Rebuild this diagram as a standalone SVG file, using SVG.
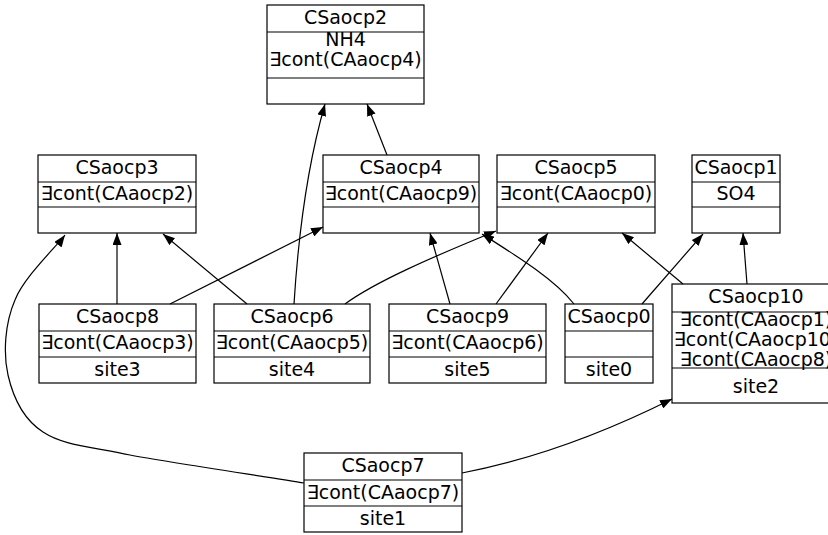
<svg xmlns="http://www.w3.org/2000/svg" width="828" height="535" viewBox="0 0 828 535">
<style>
.box{fill:none;stroke:#000;stroke-width:1.2}
.sep{stroke:#000;stroke-width:1.2}
text{font-family:"DejaVu Sans","Noto Sans",sans-serif;font-size:19px;text-anchor:middle;fill:#000}
.e{fill:none;stroke:#000;stroke-width:1.2;marker-end:url(#ah)}
</style>
<defs>
<marker id="ah" viewBox="0 0 12 9" refX="12" refY="4.5" markerWidth="12" markerHeight="9" markerUnits="userSpaceOnUse" orient="auto">
<path d="M0,0 L12,4.5 L0,9 z" fill="#000"/>
</marker>
</defs>
<rect width="828" height="535" fill="#fff"/>
<g id="connectors">
<path class="e" d="M387,155 L367,104"/>
<path class="e" d="M294,304 C298,240 306,170 325,104"/>
<path class="e" d="M117,304 L117,233"/>
<path class="e" d="M170,304 L323,227"/>
<path class="e" d="M247,304 L163,234"/>
<path class="e" d="M345,304 C375,282 430,258 496,231"/>
<path class="e" d="M450,304 L430,233"/>
<path class="e" d="M496,304 L548,233"/>
<path class="e" d="M574,304 C555,280 520,258 482,234"/>
<path class="e" d="M642,304 L703,234"/>
<path class="e" d="M683,284 L622,233"/>
<path class="e" d="M747,284 L743,233"/>
<path class="e" d="M304,483 C275,478 173,463 130,455 C86,446 63,445 43,432 C23,419 13,397 8,375 C3,353 5,323 15,300 C24,277 57,246 65,235"/>
<path class="e" d="M462,473 C540,458 610,430 672,399"/>
</g>
<g id="CSaocp2">
<rect class="box" x="267" y="5" width="157" height="99"/>
<line class="sep" x1="267" y1="32" x2="424" y2="32"/>
<line class="sep" x1="267" y1="78" x2="424" y2="78"/>
<text x="345.5" y="24">CSaocp2</text>
<text x="345.5" y="46">NH4</text>
<text x="345.5" y="66">∃cont(CAaocp4)</text>
</g>
<g id="CSaocp3">
<rect class="box" x="38" y="155" width="158" height="78"/>
<line class="sep" x1="38" y1="182" x2="196" y2="182"/>
<line class="sep" x1="38" y1="207" x2="196" y2="207"/>
<text x="117" y="174">CSaocp3</text>
<text x="117" y="200">∃cont(CAaocp2)</text>
</g>
<g id="CSaocp4">
<rect class="box" x="323" y="155" width="156" height="78"/>
<line class="sep" x1="323" y1="182" x2="479" y2="182"/>
<line class="sep" x1="323" y1="207" x2="479" y2="207"/>
<text x="401" y="174">CSaocp4</text>
<text x="401" y="200">∃cont(CAaocp9)</text>
</g>
<g id="CSaocp5">
<rect class="box" x="497" y="155" width="158" height="78"/>
<line class="sep" x1="497" y1="182" x2="655" y2="182"/>
<line class="sep" x1="497" y1="207" x2="655" y2="207"/>
<text x="576" y="174">CSaocp5</text>
<text x="576" y="200">∃cont(CAaocp0)</text>
</g>
<g id="CSaocp1">
<rect class="box" x="692" y="155" width="88" height="78"/>
<line class="sep" x1="692" y1="182" x2="780" y2="182"/>
<line class="sep" x1="692" y1="207" x2="780" y2="207"/>
<text x="736" y="174">CSaocp1</text>
<text x="736" y="200">SO4</text>
</g>
<g id="CSaocp8">
<rect class="box" x="39" y="304" width="157" height="79"/>
<line class="sep" x1="39" y1="331" x2="196" y2="331"/>
<line class="sep" x1="39" y1="357" x2="196" y2="357"/>
<text x="117.5" y="323">CSaocp8</text>
<text x="117.5" y="349">∃cont(CAaocp3)</text>
<text x="117.5" y="376">site3</text>
</g>
<g id="CSaocp6">
<rect class="box" x="214" y="304" width="156" height="79"/>
<line class="sep" x1="214" y1="331" x2="370" y2="331"/>
<line class="sep" x1="214" y1="357" x2="370" y2="357"/>
<text x="292" y="323">CSaocp6</text>
<text x="292" y="349">∃cont(CAaocp5)</text>
<text x="292" y="376">site4</text>
</g>
<g id="CSaocp9">
<rect class="box" x="389" y="304" width="157" height="79"/>
<line class="sep" x1="389" y1="331" x2="546" y2="331"/>
<line class="sep" x1="389" y1="357" x2="546" y2="357"/>
<text x="467.5" y="323">CSaocp9</text>
<text x="467.5" y="349">∃cont(CAaocp6)</text>
<text x="467.5" y="376">site5</text>
</g>
<g id="CSaocp0">
<rect class="box" x="565" y="304" width="88" height="79"/>
<line class="sep" x1="565" y1="331" x2="653" y2="331"/>
<line class="sep" x1="565" y1="357" x2="653" y2="357"/>
<text x="609" y="323">CSaocp0</text>
<text x="609" y="376">site0</text>
</g>
<g id="CSaocp10">
<rect class="box" x="672" y="284" width="168" height="119"/>
<line class="sep" x1="672" y1="312" x2="840" y2="312"/>
<line class="sep" x1="672" y1="368" x2="840" y2="368"/>
<text x="756" y="303">CSaocp10</text>
<text x="756" y="326">∃cont(CAaocp1)</text>
<text x="756" y="346">∃cont(CAaocp10)</text>
<text x="756" y="366">∃cont(CAaocp8)</text>
<text x="756" y="393">site2</text>
</g>
<g id="CSaocp7">
<rect class="box" x="304" y="453" width="158" height="79"/>
<line class="sep" x1="304" y1="480" x2="462" y2="480"/>
<line class="sep" x1="304" y1="506" x2="462" y2="506"/>
<text x="383" y="472">CSaocp7</text>
<text x="383" y="499">∃cont(CAaocp7)</text>
<text x="383" y="525">site1</text>
</g>
</svg>
